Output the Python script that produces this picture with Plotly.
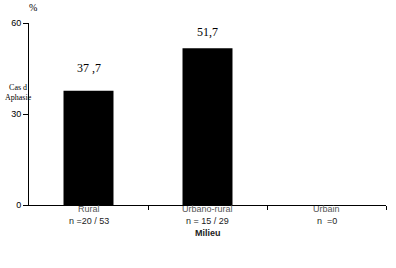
import plotly.graph_objects as go

categories = ["Rural", "Urbano-rural", "Urbain"]
counts = ["n =20 / 53", "n = 15 / 29", "n  =0"]
values = [37.7, 51.7, 0]
value_labels = ["37 ,7", "51,7", ""]
y_ticks = [0, 30, 60]

xpos = list(range(len(categories)))
sans = "Liberation Sans Narrow, Arial Narrow, Liberation Sans, sans-serif"
serif = "Liberation Serif, Times New Roman, serif"
label_shift = [14, 7, 0]  # styling: vertical offset of value labels (px)

fig = go.Figure()
fig.add_trace(go.Bar(x=xpos[:2], y=values[:2], width=0.42,
                     marker=dict(color="black", line=dict(width=0))))

for x, v, t, s in zip(xpos, values, value_labels, label_shift):
    if t:
        fig.add_annotation(x=x, y=v, text=t, showarrow=False, yanchor="bottom",
                           yshift=s, font=dict(family=serif, size=12, color="black"))

for x, c, n in zip(xpos, categories, counts):
    fig.add_annotation(x=x, y=0, yref="y", text=c, showarrow=False, yanchor="top",
                       yshift=3, font=dict(family=sans, size=9, color="#555"))
    fig.add_annotation(x=x, y=0, yref="y", text=n, showarrow=False, yanchor="top",
                       yshift=-9, font=dict(family=sans, size=9, color="#222"))

fig.add_annotation(x=1, y=0, yref="y", text="<b>Milieu</b>", showarrow=False,
                   yanchor="top", yshift=-21, font=dict(family=sans, size=9, color="#222"))
fig.add_annotation(xref="x domain", yref="y domain", x=0.012, y=1.085,
                   xanchor="center", yanchor="middle", text="%", showarrow=False,
                   font=dict(family=serif, size=10, color="black"))
fig.add_annotation(xref="paper", yref="y", x=-0.074, y=37, text="Cas d<br>Aphasie",
                   showarrow=False, xanchor="left", yanchor="middle", align="center",
                   font=dict(family=serif, size=8, color="black"))

fig.update_layout(
    width=396, height=268,
    margin=dict(l=29, r=10, t=23, b=63),
    plot_bgcolor="white", paper_bgcolor="white",
    showlegend=False,
    xaxis=dict(range=[-0.5, 2.5], tickvals=[0.5, 1.5, 2.5], ticktext=["", "", ""],
               ticks="outside", ticklen=4, tickcolor="black", showline=True,
               linecolor="black", linewidth=1, showgrid=False, zeroline=False),
    yaxis=dict(range=[0, 60], tickvals=y_ticks, ticks="outside", ticklen=5,
               tickcolor="black", showline=True, linecolor="black", linewidth=1,
               showgrid=False, zeroline=False,
               tickfont=dict(family=sans, size=9, color="black")),
)

fig.write_html("out.html")
